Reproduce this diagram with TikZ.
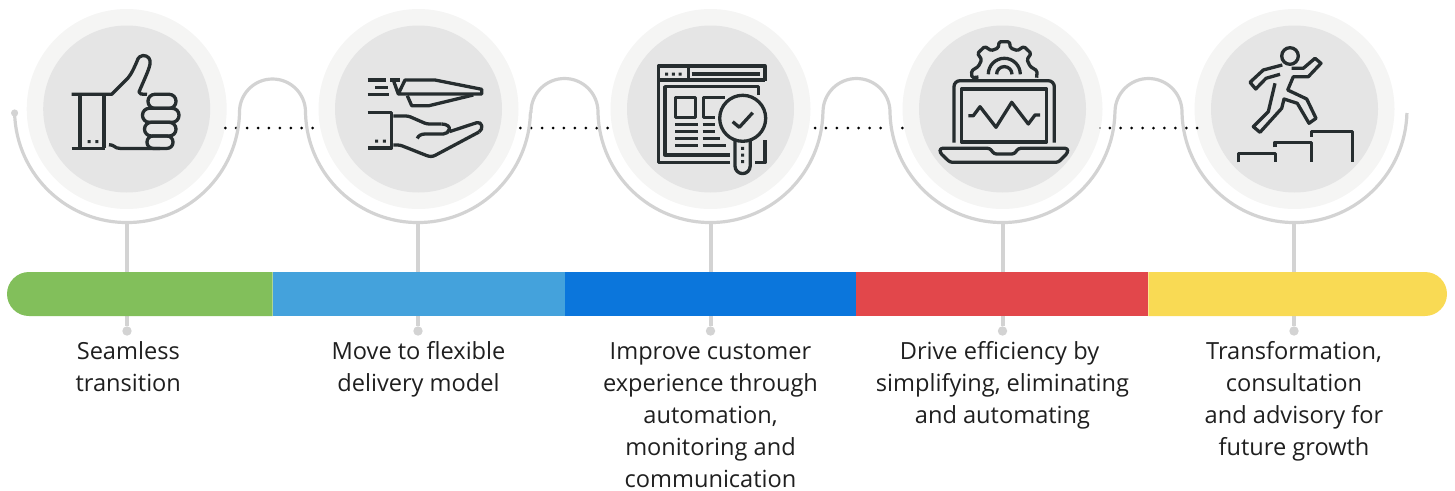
\documentclass[tikz,border=0pt]{standalone}
\usepackage{fontspec}
\setmainfont{Open Sans}
\definecolor{wave}{HTML}{D3D3D3}
\definecolor{ring}{HTML}{F5F5F4}
\definecolor{disc}{HTML}{E5E5E5}
\definecolor{ink}{HTML}{262D2F}
\definecolor{cgreen}{HTML}{82BF5B}
\definecolor{cblue}{HTML}{44A2DC}
\definecolor{cdeep}{HTML}{0B76DC}
\definecolor{cred}{HTML}{E2474B}
\definecolor{cyellow}{HTML}{F9DA54}
\definecolor{txt}{HTML}{1F1F1F}
\tikzset{
  ringnode/.style={circle,fill=ring,minimum size=200pt,inner sep=0pt},
  discnode/.style={circle,fill=disc,minimum size=167pt,inner sep=0pt},
  endnode/.style={circle,fill=wave,minimum size=9.4pt,inner sep=0pt},
  segnode/.style={minimum width=#1,minimum height=44pt,inner sep=0pt,outer sep=0pt},
  waveline/.style={draw=wave,line width=3.2pt},
  stemline/.style={draw=wave,line width=4pt},
  icon/.style={draw=ink,line width=3.3pt,line join=round,line cap=butt},
  iconround/.style={icon,rounded corners=2.5pt},
  label/.style={font=\fontsize{23.6}{32}\selectfont,text=txt,align=center,anchor=north,inner sep=0pt},
  icondot/.style={fill=ink}
}
\newcommand{\fl}{\rule{0pt}{24pt}}
\begin{document}
\begin{tikzpicture}[x=1pt,y=-1pt]
\useasboundingbox (0,0) rectangle (1455,490);
% rings
\foreach \i/\x in {1/126.7,2/418.5,3/710.5,4/1002.5,5/1294.5}{
  \node[ringnode] (o\i) at (\x,109) {};
  \node[discnode] (n\i) at (\x,109) {};
}
% dotted rows
\foreach \s in {225.3,520.3,815.0,1109.8}
  \foreach \k in {0,...,8}
    \fill[black] ({\s+\k*10.92},128) circle (1.5);
\fill[black!60] (1100,128) circle (0.8);
% wave
\path[waveline]
  (14.6,113) arc (178.5:1.5:112.5) -- (239.5,112)
  arc (180:360:33) -- (305.5,113) arc (178.5:1.5:112.5) -- (531,112)
  arc (180:360:33.5) -- (598,113) arc (178.5:1.5:112.5) -- (823,112)
  arc (180:360:33.5) -- (890,113) arc (178.5:1.5:112.5) -- (1115,112)
  arc (180:360:33.5) -- (1182,113) arc (178.5:1.5:112.5);
\fill[wave] (14.6,113) circle (3.6);
% stems
\foreach \i/\x in {1/127,2/418,3/710.5,4/1002.5,5/1294}{
  \coordinate (b\i) at (\x,222);
  \node[endnode] (d\i) at (\x,331) {};
  \path[stemline] (b\i) -- (d\i);
}
% bar
\fill[cgreen] (272.6,272) -- (29,272) arc (270:90:22) -- (272.6,316) -- cycle;
\node[segnode=291.6pt,fill=cblue] (sb) at (418.7,294) {};
\node[segnode=291.6pt,fill=cdeep] (sd) at (710.5,294) {};
\node[segnode=291.6pt,fill=cred] (sr) at (1002,294) {};
\fill[cyellow] (1148.3,272) -- (1425,272) arc (-90:90:22) -- (1148.3,316) -- cycle;
% labels
\node[label] (t1) at (128.3,335) {\fl Seamless\\transition};
\node[label] (t2) at (418.5,335) {\fl Move to flexible\\delivery model};
\node[label] (t3) at (710.5,335) {\fl Improve customer\\experience through\\automation,\\monitoring and\\communication};
\node[label] (t4) at (1002.5,335) {\fl Drive efficiency by\hspace*{6pt}\\simplifying, eliminating\\and automating};
\node[label] (t5) at (1294,335) {\fl Transformation,\\consultation\\and advisory for\\future growth};
% icon 1 thumb
\path[icon] (71.7,94.3) -- (111.7,94.3) -- (128,78) .. controls (132,73) and (134,68) .. (136.7,62)
  .. controls (138,57) and (141,55.5) .. (143,55.5) .. controls (148,55.5) and (151,59) .. (150,64)
  .. controls (149,70) and (144,80) .. (139,92) .. controls (139,94) and (141,94.3) .. (147,94.3);
\path[icon] (80,94.3) -- (80,148.4) (104,94.3) -- (104,148.4) (71.7,148.4) -- (105,148.4);
\path[icon] (109,144.7) .. controls (115,144.7) and (114,148.4) .. (120,148.4) -- (160,148.4);
\path[icon,rounded corners=6.8pt] (148,94.3) rectangle (176,108.3);
\path[icon,rounded corners=6.8pt] (142.5,108.3) rectangle (179,122.3);
\path[icon,rounded corners=6.8pt] (144.5,122.3) rectangle (176,136);
\path[icon,rounded corners=6pt] (147,136) rectangle (173,148.4);
\fill[icondot] (87.7,140) rectangle (90.7,143) (95.3,140) rectangle (98.3,143);
% icon 2 plane and hand
\path[icon] (367.7,80) -- (385.7,80) (375,87.3) -- (388.3,87.3) (367.7,94.3) -- (389.3,94.3) (390,80) -- (400,80);
\path[icon] (393.3,80) -- (398.3,94) -- (405,80) -- (435,80) -- (481.7,89.3) -- (481.7,94) -- (398.3,94);
\path[icon] (407.3,95.7) -- (411.7,105.7) -- (429,105.7) -- (473.3,95);
\path[icon] (367.7,112.3) -- (391.7,112.3) -- (391.7,148) -- (367.7,148);
\path[iconround] (393.3,116) -- (408.3,116) -- (426.7,124) -- (441.7,124);
\path[icon] (441.7,124) .. controls (447,124) and (450,127) .. (449.3,129) .. controls (449,132) and (446,134) .. (443.3,134) -- (425,134) .. controls (421,134) and (418,136) .. (417.3,138.5);
\path[iconround] (393.3,145) -- (400,145) -- (429,156.5) -- (433,156.5) -- (479,132);
\path[icon] (479,132) .. controls (484,129) and (482,121) .. (476.7,122.7) -- (449.3,131.7);
\fill[icondot] (375.2,139.5) rectangle (378.2,142.5) (382.8,139.5) rectangle (385.8,142.5);
% icon 3 browser
\path[icon] (730,162.7) -- (658.3,162.7) -- (658.3,66) -- (765,66) -- (765,81);
\path[icon] (658.3,80) -- (765,80) (688.3,66) -- (688.3,80) (691.7,74) -- (760,74);
\path[icon] (730,155) -- (665,155) -- (665,86.7) -- (758.3,86.7) -- (758.3,95);
\path[icon] (765,140) -- (765,162.7) -- (755,162.7);
\path[icon] (675.7,97.3) rectangle (695.7,117.3);
\path[icon] (725,97.3) -- (703.3,97.3) -- (703.3,117.3) -- (715,117.3);
\path[icon] (675,124.3) -- (698.3,124.3) (702.7,124.3) -- (715,124.3)
  (675,131.3) -- (698.3,131.3) (702.7,131.3) -- (715,131.3)
  (675,138.3) -- (698.3,138.3) (702.7,138.3) -- (720,138.3)
  (675,145.3) -- (698.3,145.3) (702.7,145.3) -- (726,145.3);
\path[icon] (742.7,118.3) circle (23);
\path[icon] (735,141) -- (735,166) arc (180:0:7.6) -- (750.2,141);
\path[icon] (732.7,121.7) -- (739.3,127.3) -- (752.7,112.7);
\fill[icondot] (741.2,146.8) rectangle (744.2,149.8) (741.2,153.5) rectangle (744.2,156.5) (741.2,160.2) rectangle (744.2,163.2);
\fill[icondot] (665.2,72.5) rectangle (668.2,75.5) (671.8,72.5) rectangle (674.8,75.5) (678.5,72.5) rectangle (681.5,75.5);
% icon 4 laptop
\path[icon,rounded corners=6pt] (954,142.7) -- (954,80.7) -- (1054.3,80.7) -- (1054.3,142.7);
\path[icon] (961.3,89) rectangle (1046.7,142);
\path[icon] (968.3,115.7) -- (973.3,115.7) -- (980,106.7) -- (996,127.3) -- (1011.7,102.3) -- (1028.3,124) -- (1035,115) -- (1040,115);
\path[iconround] (990,148.3) -- (994,154) -- (1014.3,154) -- (1018.3,148.3) -- (1067.7,148.3) -- (1067.7,152.7) -- (1058.3,162.3) -- (950,162.3) -- (940,152.7) -- (940,148.3) -- cycle;
\begin{scope}[shift={(1004.3,74.3)}]
  \path[icon,rounded corners=1.5pt] (-186:26) -- (-186:32.5)
   -- (-174:33) -- (-163:27)
   -- (-147:27) -- (-142:34) -- (-125:34) -- (-119:27)
   -- (-103:27) -- (-99:33) -- (-81:33) -- (-77:27)
   -- (-61:27) -- (-55:34) -- (-38:34) -- (-33:27)
   -- (-17:27) -- (-6:33) -- (6:32.5);
  \path[icon] (-16,0) arc (180:360:16);
  \path[icon] (-7.7,0) arc (180:360:7.7);
\end{scope}
% icon 5 runner
\path[icon] (1290,56) circle (8.3);
\path[icon] (1282.3,65) -- (1263.3,70) -- (1250,82.3) -- (1255.7,89) -- (1266,78.3) -- (1280,74.3);
\path[icon] (1291.7,68.3) -- (1303.3,68.3) -- (1315,58.3) -- (1321,63.3) -- (1308.3,76.7) -- (1293.3,76.7) -- (1287.7,90) -- (1306.7,99) -- (1316,118.3) -- (1309,123.3) -- (1297.3,103.3) -- (1284,99) -- (1281.7,108.3) -- (1260,132.3) -- (1253.3,126.7) -- (1268.3,111.7) -- (1275,83.3);
\path[icon] (1238.3,162.3) -- (1238.3,153.3) -- (1275.7,153.3) -- (1275.7,162.3);
\path[icon] (1275,147.3) -- (1275,142.3) -- (1311.7,142.3) -- (1311.7,162.3);
\path[icon] (1311.7,136.7) -- (1311.7,131.7) -- (1352.3,131.7) -- (1352.3,162.3);
\end{tikzpicture}
\end{document}
